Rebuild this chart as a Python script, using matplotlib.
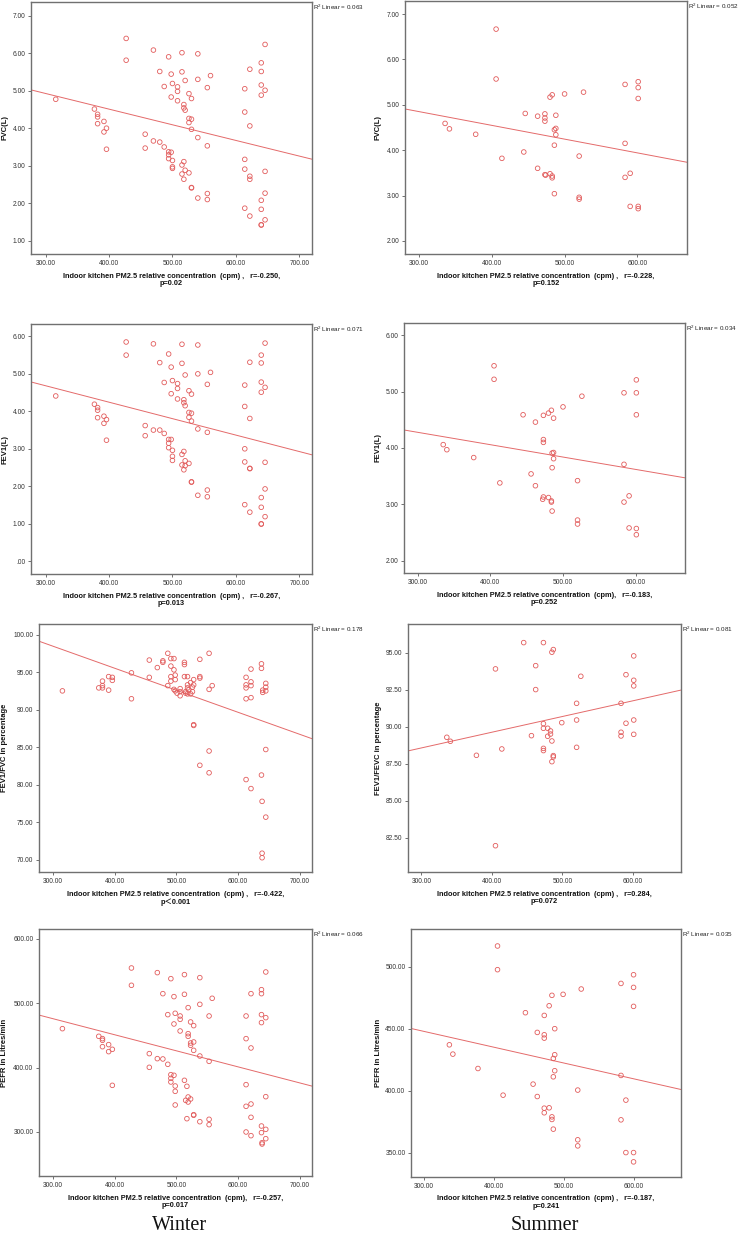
import numpy as np
import matplotlib
matplotlib.use("Agg")
import matplotlib.pyplot as plt
from matplotlib.ticker import FuncFormatter

plt.rcParams['font.family'] = ['Liberation Sans', 'DejaVu Sans']
plt.rcParams['mathtext.default'] = 'regular'

# ── data (x = PM2.5 cpm, y = lung function) ──────────────────────────────
w_fvc = [(316, 4.77), (377, 4.51), (382, 4.37), (382, 4.30), (382, 4.12), (392, 4.18), (392, 3.90),
         (396, 4.00), (396, 3.44), (427, 6.39), (427, 5.81), (457, 3.84), (457, 3.47), (470, 6.08),
         (470, 3.66), (480, 5.51), (480, 3.63), (487, 5.11), (487, 3.50), (494, 5.90), (494, 3.37),
         (494, 3.29), (494, 3.19), (498, 5.44), (498, 4.83), (498, 3.36), (500, 5.19), (500, 3.14),
         (500, 2.97), (500, 2.93), (508, 5.10), (508, 4.98), (508, 4.73), (515, 6.01), (515, 5.50),
         (515, 3.02), (515, 2.78), (518, 4.63), (518, 4.54), (520, 4.48), (518, 3.11), (520, 2.88),
         (518, 2.64), (520, 5.27), (526, 4.92), (526, 4.26), (526, 4.15), (526, 2.81), (530, 4.79),
         (530, 4.24), (530, 3.97), (530, 2.42), (530, 2.41), (540, 5.98), (540, 5.30), (540, 3.75),
         (540, 2.14), (555, 5.08), (555, 3.53), (555, 2.26), (555, 2.10), (560, 5.40), (614, 5.05),
         (614, 4.43), (614, 3.17), (614, 2.91), (614, 1.87), (622, 5.57), (622, 4.06), (622, 2.72),
         (622, 2.64), (622, 1.66), (640, 5.74), (640, 5.51), (640, 5.15), (640, 4.88), (640, 2.08),
         (640, 1.84), (640, 1.43), (640, 1.42), (646, 6.23), (646, 5.01), (646, 2.85), (646, 2.27),
         (646, 1.56)]

s_fvc = [(336, 4.59), (342, 4.47), (378, 4.35), (406, 6.67), (406, 5.57), (414, 3.82), (446, 4.81),
         (444, 3.96), (463, 4.75), (463, 3.60), (473, 4.80), (473, 4.71), (473, 4.64), (473, 3.46),
         (474, 3.45), (480, 5.17), (480, 3.48), (483, 5.22), (483, 3.43), (483, 3.39), (486, 4.45),
         (486, 4.11), (486, 3.04), (488, 4.77), (488, 4.48), (488, 4.34), (500, 5.24), (520, 3.87),
         (520, 2.96), (520, 2.92), (526, 5.28), (583, 5.45), (583, 4.15), (583, 3.40), (590, 3.49),
         (590, 2.76), (601, 5.51), (601, 5.38), (601, 5.14), (601, 2.76), (601, 2.71)]

w_fev1 = [(316, 4.41), (377, 4.19), (382, 4.10), (382, 4.03), (382, 3.83), (392, 3.87), (392, 3.68),
          (396, 3.78), (396, 3.23), (427, 5.85), (427, 5.50), (457, 3.62), (457, 3.35), (470, 5.80),
          (470, 3.50), (480, 5.30), (480, 3.50), (487, 4.77), (487, 3.41), (494, 5.53), (494, 3.25),
          (494, 3.15), (494, 3.03), (498, 5.18), (498, 4.47), (498, 3.25), (500, 4.82), (500, 2.96),
          (500, 2.80), (500, 2.69), (508, 4.74), (508, 4.61), (508, 4.33), (515, 5.79), (515, 5.28),
          (515, 2.85), (515, 2.57), (518, 4.31), (518, 4.23), (520, 4.15), (518, 2.93), (520, 2.68),
          (518, 2.44), (520, 4.97), (520, 2.55), (526, 4.55), (526, 3.97), (526, 3.84), (526, 2.61),
          (530, 4.46), (530, 3.95), (530, 3.74), (530, 2.12), (530, 2.11), (540, 5.77), (540, 5.00),
          (540, 3.53), (540, 1.76), (555, 4.72), (555, 3.44), (555, 1.90), (555, 1.72), (560, 5.04),
          (614, 4.70), (614, 4.13), (614, 3.00), (614, 2.65), (614, 1.51), (622, 5.31), (622, 3.81),
          (622, 2.48), (622, 2.47), (622, 1.31), (640, 5.50), (640, 5.29), (640, 4.78), (640, 4.51),
          (640, 1.70), (640, 1.44), (640, 1.00), (640, 0.99), (646, 5.82), (646, 4.64), (646, 2.64),
          (646, 1.93), (646, 1.19)]

s_fev1 = [(335, 4.06), (340, 3.97), (377, 3.83), (405, 5.46), (405, 5.22), (413, 3.38), (445, 4.59),
          (456, 3.54), (462, 4.46), (462, 3.33), (473, 4.58), (473, 4.15), (473, 4.10), (473, 3.13),
          (472, 3.09), (480, 4.62), (480, 3.12), (484, 4.67), (484, 3.06), (484, 3.04), (485, 3.91),
          (485, 3.65), (485, 2.88), (487, 4.53), (487, 3.92), (487, 3.81), (500, 4.73), (520, 3.42),
          (520, 2.72), (520, 2.65), (526, 4.92), (584, 4.98), (584, 3.71), (584, 3.04), (591, 3.15),
          (591, 2.58), (601, 5.21), (601, 4.98), (601, 4.59), (601, 2.57), (601, 2.46)]

w_ratio = [(315, 92.5), (374, 92.9), (380, 93.8), (380, 93.2), (380, 92.9), (390, 94.4), (390, 92.6),
           (396, 94.3), (396, 93.9), (427, 91.45), (427, 94.9), (456, 96.6), (456, 94.3), (469, 95.6),
           (478, 96.5), (478, 96.3), (486, 97.5), (486, 93.2), (491, 96.8), (491, 95.8), (491, 94.4),
           (491, 93.8), (496, 96.8), (496, 95.3), (496, 92.7), (498, 94.6), (498, 94.0), (498, 92.5),
           (501, 92.2), (506, 92.4), (506, 91.85), (506, 92.8), (513, 96.3), (513, 96.0), (513, 94.4),
           (515, 92.4), (515, 92.2), (518, 94.4), (518, 93.3), (518, 92.9), (518, 92.1), (520, 92.65),
           (523, 93.6), (523, 92.1), (526, 92.4), (526, 93.0), (528, 94.0), (528, 93.3), (528, 88.0),
           (528, 87.9), (538, 96.7), (538, 94.4), (538, 94.2), (538, 82.6), (553, 97.5), (553, 92.7),
           (553, 84.5), (553, 81.6), (558, 93.2), (613, 94.3), (613, 93.3), (613, 92.9), (613, 91.45),
           (613, 80.7), (621, 95.4), (621, 93.7), (621, 93.2), (621, 91.6), (621, 79.5), (638, 96.1),
           (638, 95.5), (640, 92.6), (640, 92.3), (638, 81.3), (639, 77.8), (639, 70.9), (639, 70.3),
           (645, 93.5), (645, 93.0), (645, 92.5), (645, 84.7), (645, 75.7)]

s_ratio = [(336, 89.29), (341, 89.02), (378, 88.07), (405, 93.92), (405, 81.95), (414, 88.5),
           (445, 95.7), (462, 94.14), (462, 92.52), (456, 89.4), (473, 95.7), (473, 90.21),
           (473, 89.9), (473, 88.54), (473, 88.39), (479, 89.9), (479, 89.36), (483, 89.72),
           (483, 89.51), (485, 95.05), (487, 95.23), (485, 89.04), (485, 87.64), (487, 88.05),
           (487, 87.96), (499, 90.28), (520, 91.59), (520, 90.46), (520, 88.61), (526, 93.42),
           (583, 91.59), (583, 89.63), (583, 89.38), (590, 93.53), (590, 90.24), (601, 94.8),
           (601, 93.15), (601, 92.77), (601, 90.46), (601, 89.49)]

w_pefr = [(315, 460.6), (374, 448.7), (380, 445.1), (380, 442.5), (380, 432.6), (390, 435.8),
          (390, 424.9), (396, 428.5), (396, 372.5), (427, 554.9), (427, 528.0), (456, 421.8),
          (456, 400.5), (469, 547.7), (469, 414.0), (478, 515.0), (478, 413.5), (486, 482.4),
          (486, 405.2), (491, 538.3), (491, 389.1), (491, 383.4), (491, 377.7), (496, 510.4),
          (496, 467.9), (496, 388.1), (498, 484.5), (498, 371.5), (498, 363.2), (498, 342.0),
          (506, 480.3), (506, 475.1), (506, 457.0), (513, 544.6), (513, 514.0), (513, 380.3),
          (515, 349.2), (517, 371.0), (517, 320.7), (519, 493.3), (519, 452.8), (519, 448.7),
          (519, 354.4), (519, 346.6), (523, 471.0), (523, 438.3), (523, 434.7), (523, 351.3),
          (528, 465.3), (528, 439.9), (528, 426.9), (528, 326.9), (528, 326.0), (538, 539.9),
          (538, 498.4), (538, 418.1), (538, 316.0), (553, 480.3), (553, 409.8), (553, 319.7),
          (553, 311.4), (558, 507.8), (613, 480.3), (613, 445.1), (613, 373.6), (613, 339.9),
          (613, 300.0), (621, 515.0), (621, 430.6), (621, 343.5), (621, 322.8), (621, 294.3),
          (638, 521.2), (638, 515.0), (638, 482.4), (638, 470.0), (638, 309.3), (638, 299.0),
          (639, 283.4), (639, 281.3), (645, 548.7), (645, 477.7), (645, 354.9), (645, 304.1),
          (645, 289.6)]

s_pefr = [(336, 437.0), (341, 429.5), (377, 417.9), (405, 516.7), (405, 497.6), (413, 396.4),
          (445, 462.9), (456, 405.3), (462, 447.0), (462, 395.3), (472, 460.7), (472, 445.1),
          (472, 442.4), (472, 385.9), (472, 382.2), (479, 468.5), (479, 386.2), (483, 476.9),
          (483, 378.9), (483, 376.8), (485, 426.0), (485, 411.2), (485, 369.0), (487, 450.0),
          (487, 429.0), (487, 416.1), (499, 477.7), (520, 400.5), (520, 360.4), (520, 355.5),
          (525, 482.0), (582, 486.5), (582, 412.3), (582, 376.5), (589, 392.4), (589, 350.1),
          (600, 493.5), (600, 483.3), (600, 468.0), (600, 350.1), (600, 342.6)]

y_labels   = ['FVC(L)', 'FVC(L)', 'FEV1(L)', 'FEV1(L)',
              'FEV1/FVC in percentage', 'FEV1/FEVC in percentage',
              'PEFR in Litres/min', 'PEFR in Litres/min']
r_texts    = ['r=-0.250,\np=0.02', 'r=-0.228,\np=0.152', 'r=-0.267,\np=0.013', 'r=-0.183,\np=0.252',
              'r=-0.422,\np\uff1c0.001', 'r=0.284,\np=0.072', 'r=-0.257,\np=0.017', 'r=-0.187,\np=0.241']
cpm_sep    = ['  (cpm) ,   ', '  (cpm) ,   ', '  (cpm) ,   ', '  (cpm),   ',
              '  (cpm) ,   ', '  (cpm) ,   ', '  (cpm),   ', '  (cpm) ,   ']
r2_values  = ['0.063', '0.052', '0.071', '0.034', '0.178', '0.081', '0.066', '0.035']
w_xticks   = [300, 400, 500, 600, 700]
s_xticks   = [300, 400, 500, 600]
y_ticks    = [[1, 2, 3, 4, 5, 6, 7], [2, 3, 4, 5, 6, 7], [0, 1, 2, 3, 4, 5, 6], [2, 3, 4, 5, 6],
              [70, 75, 80, 85, 90, 95, 100], [82.5, 85, 87.5, 90, 92.5, 95],
              [300, 400, 500, 600], [350, 400, 450, 500]]
seasons    = ['Winter', 'Summer']

# ── layout (pixel boxes: left, top, right, bottom) and axis ranges ───────
W, H = 739, 1241
boxes = [(31, 2, 312, 254), (405, 1, 687, 254),
         (31, 324, 312, 574), (404, 323, 685, 573),
         (39, 624, 312, 872), (408, 624, 681, 872),
         (39, 929, 312, 1176), (411, 929, 681, 1177)]
ylims = [(0.65, 7.36), (1.71, 7.29), (-0.34, 6.33), (1.78, 6.22),
         (68.4, 101.4), (80.17, 96.96), (231.6, 615.5), (330.4, 530.4)]
W_XLIM = (277, 720)
S_XLIM = (281, 668)

PT_COLOR   = '#e25c5c'
LINE_COLOR = '#e46a6a'
AX_COLOR   = '#707070'

datasets = [w_fvc, s_fvc, w_fev1, s_fev1, w_ratio, s_ratio, w_pefr, s_pefr]


def tick_fmt(v, _):
    s = f'{v:.2f}'
    return s[1:] if s.startswith('0.') else s


fig = plt.figure(figsize=(W / 100, H / 100), dpi=100)

for i, data in enumerate(datasets):
    left, top, right, bottom = boxes[i]
    ax = fig.add_axes([left / W, 1 - bottom / H, (right - left) / W, (bottom - top) / H])
    winter = (i % 2 == 0)
    xlim = W_XLIM if winter else S_XLIM

    arr = np.array(data, dtype=float)
    x, y = arr[:, 0], arr[:, 1]
    ax.scatter(x, y, s=11, facecolors='none', edgecolors=PT_COLOR, linewidths=0.6, zorder=3)

    k, b = np.polyfit(x, y, 1)
    xs = np.array(xlim)
    ax.plot(xs, k * xs + b, color=LINE_COLOR, lw=0.7, zorder=2)

    ax.set_xlim(*xlim)
    ax.set_ylim(*ylims[i])
    ax.set_xticks(w_xticks if winter else s_xticks)
    ax.set_yticks(y_ticks[i])
    ax.xaxis.set_major_formatter(FuncFormatter(tick_fmt))
    ax.yaxis.set_major_formatter(FuncFormatter(tick_fmt))
    ax.tick_params(direction='out', length=2.5, width=0.7, color=AX_COLOR,
                   labelsize=4.8, labelcolor='#333333', pad=1.5)
    for sp in ax.spines.values():
        sp.set_color(AX_COLOR)
        sp.set_linewidth(1.0)

    # x label (two lines, bold)
    xlabel = 'Indoor kitchen PM2.5 relative concentration' + cpm_sep[i] + r_texts[i]
    ax.annotate(xlabel, xy=(0.5, 0), xycoords='axes fraction', xytext=(0, -18.5),
                textcoords='offset pixels', ha='center', va='top', fontsize=5.3,
                fontweight='bold', color='#111111', linespacing=1.1,
                family=['Liberation Sans', 'Noto Sans CJK SC', 'DejaVu Sans'])

    # y label
    ylx = 5 if winter else 378
    fig.text(ylx / W, 1 - (top + bottom) / 2 / H, y_labels[i], rotation=90,
             ha='center', va='center', fontsize=5.5, fontweight='bold', color='#111111')

    # R² note
    ax.annotate(f'R$^2$ Linear = {r2_values[i]}', xy=(1, 1), xycoords='axes fraction',
                xytext=(1, -1), textcoords='offset pixels', ha='left', va='top',
                fontsize=4.5, color='#222222', annotation_clip=False)

for j, name in enumerate(seasons):
    cx = 180 if j == 0 else 545
    fig.text(cx / W, 1 - 1226 / H, name, ha='center', va='center', fontsize=14.5,
             family='Liberation Serif', color='#111111')

fig.savefig('out.png', dpi=100, facecolor='white')
